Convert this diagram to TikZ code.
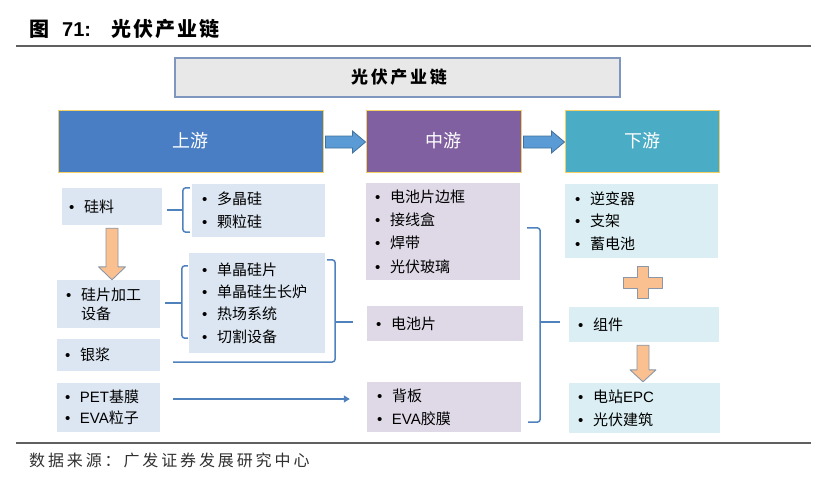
\documentclass[tikz,border=0pt]{standalone}
\usepackage{fontspec}
\setmainfont{Noto Sans CJK SC}
\newfontfamily\lat{Liberation Sans}
\newfontfamily\lsA[LetterSpace=10]{Noto Sans CJK SC}
\newfontfamily\lsB[LetterSpace=18]{Noto Sans CJK SC}
\newfontfamily\lsC[LetterSpace=16]{Noto Sans CJK SC}
\usetikzlibrary{calc,arrows.meta}
\definecolor{upc}{HTML}{497EC4}
\definecolor{midc}{HTML}{8060A0}
\definecolor{dnc}{HTML}{4BACC6}
\definecolor{lc}{HTML}{DCE6F2}
\definecolor{mc}{HTML}{DFD9E7}
\definecolor{rc}{HTML}{DAEEF3}
\definecolor{gold}{HTML}{F3D063}
\definecolor{tbf}{HTML}{E8E8E8}
\definecolor{tbb}{HTML}{7F97BF}
\definecolor{brc}{HTML}{4F81BD}
\definecolor{orc}{HTML}{FAC090}
\definecolor{orb}{HTML}{8A97A8}
\definecolor{arc}{HTML}{5B9BD5}
\definecolor{arb}{HTML}{41719C}
\definecolor{rulec}{HTML}{606060}
\definecolor{srcc}{HTML}{303030}
\newcommand\bul{\makebox[15pt][l]{\lat •}}
\newcommand\varrow[5]{\path[oarrow] let \p1=(#1), \p2=(#2) in
  (\x1-#3,\y1) -- (\x1-#3,\y2+#5) -- (\x1-#4,\y2+#5) -- (\x1,\y2) --
  (\x1+#4,\y2+#5) -- (\x1+#3,\y2+#5) -- (\x1+#3,\y1) -- cycle;}
\newcommand\harrow[5]{\path[barrow] let \p1=(#1), \p2=(#2) in
  (\x1,\y1+#3) -- (\x2-#5,\y1+#3) -- (\x2-#5,\y1+#4) -- (\x2,\y1) --
  (\x2-#5,\y1-#4) -- (\x2-#5,\y1-#3) -- (\x1,\y1-#3) -- cycle;}
\begin{document}
\begin{tikzpicture}[x=1pt,y=-1pt,
  hdr/.style={draw=gold, line width=1pt, text=white, font=\fontsize{18}{20}\selectfont, inner sep=0pt},
  ibox/.style={fill=#1, inner ysep=0pt, align=left, anchor=center},
  it/.style={font=\fontsize{15}{#1}\selectfont},
  brk/.style={draw=brc, line width=1.5pt, rounded corners=3pt},
  oarrow/.style={fill=orc, draw=orb, line width=0.9pt, line join=round},
  barrow/.style={fill=arc, draw=arb, line width=0.8pt},
  rule/.style={draw=rulec, line width=1.4pt},
  plain/.style={inner sep=0pt, anchor=base west},
]
\useasboundingbox (0,0) rectangle (831,485);
% heading
\node[plain, font=\fontsize{20}{22}\selectfont\bfseries] (t1) at (29,36) {图};
\node[plain, font=\fontsize{20}{22}\selectfont\lat\bfseries] (t2) at (62,36) {71:};
\node[plain, font=\fontsize{20}{22}\selectfont\lsA\bfseries] (t3) at (111,36) {光伏产业链};
\coordinate (r1a) at (16,46); \coordinate (r1b) at (811,46);
\draw[rule] (r1a) -- (r1b);
% title box
\node[draw=tbb, fill=tbf, line width=1.2pt, minimum width=445pt, minimum height=39pt,
      font=\fontsize{17}{18}\selectfont\lsC\bfseries] (ttl) at (397.5,77.5) {\hspace*{3pt}光伏产业链};
% headers
\node[hdr, fill=upc, minimum width=265pt, minimum height=62pt] (up) at (190.5,141) {上游};
\node[hdr, fill=midc, minimum width=155pt, minimum height=62pt] (mid) at (443.5,141) {中游};
\node[hdr, fill=dnc, minimum width=154pt, minimum height=62pt] (dn) at (642,141) {下游};
\harrow{$(up.east)+(2,1)$}{$(mid.west)+(0,1)$}{6pt}{11pt}{13pt}
\harrow{$(mid.east)+(2,1)$}{$(dn.west)+(0,1)$}{6pt}{11pt}{13pt}
% left column
\node[ibox=lc, it=23, minimum width=100pt, minimum height=37pt, inner xsep=7pt, text width=86pt] (si) at (112,206.5) {\bul 硅料};
\node[ibox=lc, it=23, minimum width=133pt, minimum height=53pt, inner xsep=10pt, text width=113pt] (poly) at (258.5,210.5) {\bul 多晶硅\\\bul 颗粒硅};
\node[ibox=lc, it=19, minimum width=103pt, minimum height=48pt, inner xsep=9pt, text width=85pt] (wafer) at (108.5,304) {\bul 硅片加工\\\hspace*{15pt}设备};
\node[ibox=lc, it=22.3, minimum width=136pt, minimum height=100pt, inner xsep=13pt, text width=110pt] (mono) at (257,303) {\bul 单晶硅片\\\bul 单晶硅生长炉\\\bul 热场系统\\\bul 切割设备};
\node[ibox=lc, it=23, minimum width=103pt, minimum height=32pt, inner xsep=8pt, text width=87pt] (silver) at (108.5,355) {\bul 银浆};
\node[ibox=lc, it=21, minimum width=103pt, minimum height=49pt, inner xsep=8pt, text width=87pt] (pet) at (108.5,407.5) {\bul {\lat PET}基膜\\\bul {\lat EVA}粒子};
% middle column
\node[ibox=mc, it=23.3, minimum width=154pt, minimum height=97pt, inner xsep=9pt, text width=136pt] (frame) at (443,231.5) {\bul 电池片边框\\\bul 接线盒\\\bul 焊带\\\bul 光伏玻璃};
\node[ibox=mc, it=23, minimum width=156pt, minimum height=35pt, inner xsep=9pt, text width=138pt] (cell) at (445,323.5) {\bul 电池片};
\node[ibox=mc, it=23, minimum width=154pt, minimum height=50pt, inner xsep=10pt, text width=134pt] (back) at (444,407) {\bul 背板\\\bul {\lat EVA}胶膜};
% right column
\node[ibox=rc, it=22.5, minimum width=153pt, minimum height=74pt, inner xsep=10pt, text width=133pt] (inv) at (641.5,221) {\bul 逆变器\\\bul 支架\\\bul 蓄电池};
\node[ibox=rc, it=23, minimum width=150pt, minimum height=35pt, inner xsep=9pt, text width=132pt] (mod) at (644,324.5) {\bul 组件};
\node[ibox=rc, it=23, minimum width=151pt, minimum height=50pt, inner xsep=9pt, text width=133pt] (epc) at (644.5,408) {\bul 电站{\lat EPC}\\\bul 光伏建筑};
% brackets
\draw[brk] ($(poly.north west)+(-2,4)$) -- ($(poly.north west)+(-9,4)$) -- ($(poly.south west)+(-9,-5)$) -- ($(poly.south west)+(-2,-5)$);
\draw[brk, rounded corners=0pt] ($(si.east)+(5,3.5)$) -- ($(poly.west)+(-9,-0.5)$);
\draw[brk] ($(mono.north west)+(-1,13)$) -- ($(mono.north west)+(-7,13)$) -- ($(mono.south west)+(-7,-15)$) -- ($(mono.south west)+(-1,-15)$);
\draw[brk, rounded corners=0pt] ($(wafer.east)+(5,-1)$) -- ($(mono.west)+(-7,0)$);
\draw[brk] ($(silver.east)+(13,7)$) -| ($(mono.north east)+(10,7)$) -- ($(mono.north east)+(2,7)$);
\draw[brk, rounded corners=0pt] ($(mono.east)+(10,19)$) -- ($(cell.west)+(-14,-1.5)$);
\draw[brk] ($(frame.north east)+(7,45)$) -- ($(frame.north east)+(20,45)$) -- ($(back.south east)+(19,-10)$) -- ($(back.south east)+(7,-10)$);
\draw[brk, rounded corners=0pt] ($(cell.east)+(17,-1.5)$) -- ($(mod.west)+(-9,-2.5)$);
\draw[brk, rounded corners=0pt, line width=1.2pt, -{Triangle[length=6pt,width=7pt]}] ($(pet.east)+(13,-8.5)$) -- ($(back.west)+(-17,-8)$);
% orange arrows and plus
\varrow{$(si.south)+(0,3)$}{si.south |- wafer.north}{6pt}{13.5pt}{13pt}
\varrow{$(mod.south)+(-1,3)$}{$(mod.south |- epc.north)+(-1,-1)$}{6pt}{13pt}{12pt}
\coordinate (pc) at ($(inv.south)!0.5!(mod.north)$);
\path[oarrow] let \p1=(pc) in
  (\x1-5.5pt,\y1+16pt) -- (\x1+5.5pt,\y1+16pt) -- (\x1+5.5pt,\y1+5.5pt) -- (\x1+19.5pt,\y1+5.5pt) --
  (\x1+19.5pt,\y1-5.5pt) -- (\x1+5.5pt,\y1-5.5pt) -- (\x1+5.5pt,\y1-16pt) -- (\x1-5.5pt,\y1-16pt) --
  (\x1-5.5pt,\y1-5.5pt) -- (\x1-19.5pt,\y1-5.5pt) -- (\x1-19.5pt,\y1+5.5pt) -- (\x1-5.5pt,\y1+5.5pt) -- cycle;
% bottom
\coordinate (r2a) at (16,443); \coordinate (r2b) at (811,443);
\draw[rule] (r2a) -- (r2b);
\node[plain, text=srcc, font=\fontsize{16}{18}\selectfont\lsB] (src) at (29,466) {数据来源：广发证券发展研究中心};
\end{tikzpicture}
\end{document}
